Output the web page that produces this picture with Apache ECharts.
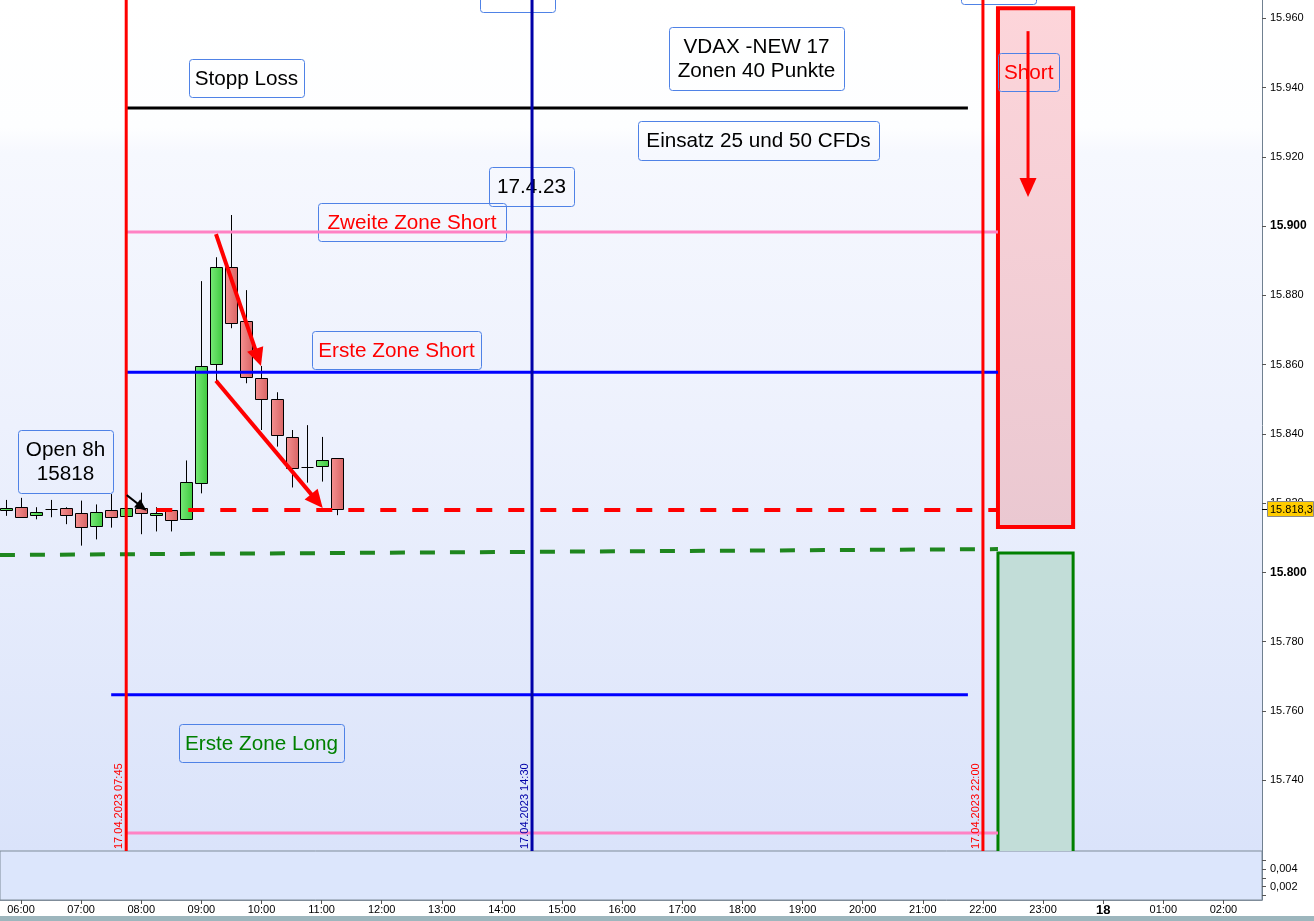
<!DOCTYPE html>
<html><head><meta charset="utf-8">
<script src="https://cdn.jsdelivr.net/npm/echarts@6/dist/echarts.min.js"></script>
<style>html,body{margin:0;padding:0;background:#fff;}#c{width:1314px;height:921px;}</style>
</head><body><div id="c"></div>
<script>
// ---- DATA (time = minutes after 00:00 on 17.04.2023, 15-min bars) ----
var candleTimes = [345,360,375,390,405,420,435,450,465,480,495,510,525,540,555,570,585,600,615,630,645,660,675];
var opens  = [15818.0,15818.8,15816.5,15818.2,15818.5,15817.0,15813.2,15818.0,15816.3,15818.5,15816.5,15817.9,15815.3,15825.9,15860.1,15888.1,15872.5,15856.0,15850.0,15839.0,15830.3,15830.8,15832.9];
var closes = [15818.5,15815.9,15817.3,15818.2,15816.5,15812.9,15817.3,15815.9,15818.5,15817.0,15817.0,15815.1,15826.0,15859.6,15888.1,15871.9,15856.3,15850.0,15839.6,15830.0,15830.3,15832.4,15818.3];
var lows   = [15816.3,15815.9,15815.3,15815.9,15813.9,15807.7,15809.5,15812.9,15815.8,15811.0,15811.8,15811.8,15815.3,15822.8,15855.0,15870.5,15854.6,15841.1,15836.3,15824.5,15825.9,15826.2,15816.5];
var highs  = [15820.9,15821.5,15818.8,15820.9,15818.8,15820.7,15819.6,15822.6,15819.0,15823.0,15818.8,15818.2,15832.3,15884.1,15891.0,15903.2,15881.5,15859.6,15852.0,15841.1,15842.5,15839.1,15832.9];
var lastPrice = 15818.3;

var hourTicks  = [360,420,480,540,600,660,720,780,840,900,960,1020,1080,1140,1200,1260,1320,1380,1440,1500,1560];
var priceTicks = [15740,15760,15780,15800,15820,15840,15860,15880,15900,15920,15940,15960];
var subTicks   = [0.001,0.002,0.003,0.004,0.005];
var subLabels  = [0.002,0.004];

// horizontal level lines: [startTime, startValue, endTime, endValue]
var lvlStop      = [465, 15934.1, 1305, 15934.1];
var lvlZone2S    = [465, 15898.3, 1335, 15898.3];
var lvlZone1S    = [465, 15857.8, 1335, 15857.8];
var lvlOpen8h    = [495, 15818.0, 1335, 15818.0];
var lvlGreen     = [339, 15805.0, 1335, 15806.7];
var lvlZone1L    = [450, 15764.6, 1305, 15764.6];
var lvlBottom    = [465, 15724.7, 1335, 15724.7];

// vertical markers
var vTimes  = [465, 870, 1320];
var vLabels = ['17.04.2023 07:45', '17.04.2023 14:30', '17.04.2023 22:00'];

// zones: [t1, v1, t2, v2]
var shortZone = [1335, 15962.9, 1410, 15813.1];
var longZone  = [1335, 15805.6, 1410, 15690];

// arrows: [t1, v1, t2, v2]
var arrowData = [[554.6,15897.7,599.5,15859.6],[554.6,15855.3,661.1,15818.6],[1365,15956.3,1365,15908.4],[465.5,15822.3,485.4,15817.8]];

// text notes: anchor [t, v]
var noteTexts = [['Stopp Loss'],['VDAX -NEW 17','Zonen 40 Punkte'],['Einsatz 25 und 50 CFDs'],['17.4.23'],['Zweite Zone Short'],['Erste Zone Short'],['Open 8h','15818'],['Erste Zone Long'],['Short'],[''],['']];
var noteAnchors = [[585,15942.8],[1094,15948.4],[1096,15924.7],[869.5,15911.4],[750.2,15901.2],[734.7,15864.2],[404.4,15832.0],[600,15750.7],[1365.7,15944.5],[855,15966.4],[1335.5,15968.8]];

// ---- LAYOUT / STYLE ----
var X_MIN = 339.04, X_MAX = 1598.5, Y_MIN = 15719.5, Y_MAX = 15965.3;
var FONT = '"Liberation Sans", Arial, sans-serif';
var noteStyle = [
  {w:115,h:38,c:'#000'},{w:175,h:63,c:'#000'},{w:241,h:39,c:'#000'},{w:85,h:39,c:'#000'},
  {w:188,h:38,c:'#ff0000'},{w:169,h:38,c:'#ff0000'},{w:95,h:63,c:'#000'},{w:165,h:38,c:'#008000'},
  {w:61,h:38,c:'#ff0000'},{w:75,h:32,c:'#000'},{w:75,h:32,c:'#000'}
];
var arrowStyle = [
  {c:'#ff0000',lw:4,L:18,W:17},{c:'#ff0000',lw:4,L:18,W:17},{c:'#ff0000',lw:3,L:19,W:17},{c:'#000',lw:2,L:12,W:10}
];
var vColors = ['#ff0000','#0000a8','#ff0000'];

function fmtPrice(v){ var s = String(Math.round(v)); return s.slice(0,2)+'.'+s.slice(2); }
function fmtHour(v){
  if (v === 1440) return '{b|18}';
  var h = Math.floor(v/60)%24, m = v%60;
  return (h<10?'0':'')+h+':'+(m<10?'0':'')+m;
}

var chart = echarts.init(document.getElementById('c'), null, {renderer:'canvas'});
var G = echarts.graphic;

var upFill = new G.LinearGradient(0,0,1,0,[{offset:0,color:'#78ea78'},{offset:1,color:'#3ec83e'}]);
var dnFill = new G.LinearGradient(0,0,1,0,[{offset:0,color:'#f59191'},{offset:1,color:'#d86464'}]);

function lineSeries(arr, color, width, z, dash){
  return {type:'line', xAxisIndex:0, yAxisIndex:0, data:[[arr[0],arr[1]],[arr[2],arr[3]]],
    showSymbol:false, symbol:'none', silent:true, z:z,
    lineStyle:{color:color, width:width, type: dash || 'solid', cap:'butt'}};
}

var candleData = candleTimes.map(function(t,i){ return [t, opens[i], closes[i], lows[i], highs[i]]; });

var option = {
  animation:false,
  backgroundColor:'#ffffff',
  grid:[
    {left:0, top:0, width:1262, height:851, show:true, borderWidth:0,
     backgroundColor:new G.LinearGradient(0,0,0,1,[{offset:0,color:'#ffffff'},{offset:0.15,color:'#fdfeff'},{offset:0.18,color:'#f6f8fe'},{offset:0.5,color:'#edf1fd'},{offset:1,color:'#dae3fa'}])},
    {left:0, top:851, width:1262, height:49, show:true, backgroundColor:'#dce6fc', borderColor:'#7f8c99', borderWidth:1}
  ],
  xAxis:[
    {type:'value', gridIndex:0, min:X_MIN, max:X_MAX, show:false},
    {type:'value', gridIndex:1, min:X_MIN, max:X_MAX, position:'bottom',
     axisLine:{show:true, lineStyle:{color:'#7f8c99'}},
     axisTick:{show:true, customValues:hourTicks, length:4, lineStyle:{color:'#555'}},
     splitLine:{show:false},
     axisLabel:{customValues:hourTicks, formatter:fmtHour, color:'#000', fontSize:11, fontFamily:FONT, margin:4,
       rich:{b:{fontSize:13, fontWeight:'bold', color:'#000', fontFamily:FONT}}}}
  ],
  yAxis:[
    {type:'value', gridIndex:0, min:Y_MIN, max:Y_MAX, position:'right',
     axisLine:{show:true, lineStyle:{color:'#708090'}},
     axisTick:{show:true, customValues:priceTicks, length:4, lineStyle:{color:'#555'}},
     splitLine:{show:false},
     axisLabel:{customValues:priceTicks, margin:8, color:'#000', fontSize:11, fontFamily:FONT,
       formatter:function(v){ var s = fmtPrice(v); return (v===15900||v===15800) ? '{b|'+s+'}' : s; },
       rich:{b:{fontSize:12, fontWeight:'bold', color:'#000', fontFamily:FONT}}}},
    {type:'value', gridIndex:1, min:0.00047, max:0.0061, position:'right',
     axisLine:{show:true, lineStyle:{color:'#708090'}},
     axisTick:{show:true, customValues:subTicks, length:4, lineStyle:{color:'#555'}},
     splitLine:{show:false},
     axisLabel:{customValues:subLabels, margin:8, color:'#000', fontSize:11, fontFamily:FONT,
       formatter:function(v){ return v.toFixed(3).replace('.',','); }}}
  ],
  series:[
    // zones
    {type:'custom', xAxisIndex:0, yAxisIndex:0, z:1, clip:true, silent:true,
     data:[shortZone, longZone],
     renderItem:function(params, api){
       var p1 = api.coord([api.value(0), api.value(1)]), p2 = api.coord([api.value(2), api.value(3)]);
       var isShort = params.dataIndex === 0;
       return {type:'rect', shape:{x:p1[0], y:p1[1], width:p2[0]-p1[0], height:p2[1]-p1[1]},
         style:{fill: isShort ? new G.LinearGradient(0,0,0,1,[{offset:0,color:'#fdd5da'},{offset:1,color:'#eac8d1'}]) : '#c2ddd8',
                stroke: isShort ? '#ff0000' : '#008000', lineWidth: isShort ? 4 : 3}};
     }},
    // candles
    {type:'custom', xAxisIndex:0, yAxisIndex:0, z:2, clip:true, silent:true,
     data:candleData, encode:{x:0, y:[1,2,3,4]},
     renderItem:function(params, api){
       var t = api.value(0), o = api.value(1), c = api.value(2), l = api.value(3), h = api.value(4);
       var pO = api.coord([t,o]), pC = api.coord([t,c]), pL = api.coord([t,l]), pH = api.coord([t,h]);
       var x = Math.round(pO[0]) + 0.5;
       var top = Math.min(pO[1], pC[1]), bot = Math.max(pO[1], pC[1]);
       var ch = [{type:'line', shape:{x1:x, y1:pH[1], x2:x, y2:pL[1]}, style:{stroke:'#000', lineWidth:1}}];
       if (o === c) {
         ch.push({type:'line', shape:{x1:x-6, y1:Math.round(pO[1])+0.5, x2:x+6, y2:Math.round(pO[1])+0.5}, style:{stroke:'#000', lineWidth:1}});
       } else {
         ch.push({type:'rect', shape:{x:x-6, y:Math.round(top)+0.5, width:12, height:Math.max(1, Math.round(bot-top))},
           style:{fill: c > o ? upFill : dnFill, stroke:'#000', lineWidth:1}});
       }
       return {type:'group', children:ch};
     }},
    // notes
    {type:'custom', xAxisIndex:0, yAxisIndex:0, z:3, clip:false, silent:true,
     data:noteAnchors, encode:{x:0, y:1},
     renderItem:function(params, api){
       var i = params.dataIndex, s = noteStyle[i];
       var p = api.coord([api.value(0), api.value(1)]);
       return {type:'group', children:[
         {type:'rect', shape:{x:Math.round(p[0]-s.w/2)+0.5, y:Math.round(p[1]-s.h/2)+0.5, width:s.w, height:s.h, r:3},
          style:{fill:'rgba(255,255,255,0)', stroke:'#4f82e6', lineWidth:1}},
         {type:'text', x:p[0], y:p[1]+1, style:{text:noteTexts[i].join('\n'), fill:s.c, font:'20.7px '+FONT,
          align:'center', verticalAlign:'middle', lineHeight:24}}
       ]};
     }},
    lineSeries(lvlStop, '#000000', 3, 4),
    lineSeries(lvlZone2S, '#ff82c4', 3, 4),
    lineSeries(lvlZone1S, '#0000ff', 3, 4),
    lineSeries(lvlOpen8h, '#ff0000', 4, 4, [16,16]),
    lineSeries(lvlGreen, '#1e861e', 4, 4, [15,15]),
    lineSeries(lvlZone1L, '#0000ff', 3, 4),
    lineSeries(lvlBottom, '#ff82c4', 3, 4),
    // vertical markers with rotated labels
    {type:'custom', xAxisIndex:0, yAxisIndex:0, z:5, clip:false, silent:true,
     data:vTimes.map(function(t){ return [t, Y_MIN]; }), encode:{x:0, y:1},
     renderItem:function(params, api){
       var i = params.dataIndex;
       var pb = api.coord([api.value(0), Y_MIN]), pt = api.coord([api.value(0), Y_MAX]);
       return {type:'group', children:[
         {type:'line', shape:{x1:pb[0], y1:pb[1], x2:pt[0], y2:pt[1]}, style:{stroke:vColors[i], lineWidth:3}},
         {type:'text', x:pb[0]-7, y:pb[1]-2, rotation:Math.PI/2,
          style:{text:vLabels[i], fill:vColors[i], font:'11px '+FONT, align:'left', verticalAlign:'middle'}}
       ]};
     }},
    // arrows
    {type:'custom', xAxisIndex:0, yAxisIndex:0, z:6, clip:false, silent:true,
     data:arrowData,
     renderItem:function(params, api){
       var s = arrowStyle[params.dataIndex];
       var p1 = api.coord([api.value(0), api.value(1)]), p2 = api.coord([api.value(2), api.value(3)]);
       var dx = p2[0]-p1[0], dy = p2[1]-p1[1], len = Math.sqrt(dx*dx+dy*dy);
       var ux = dx/len, uy = dy/len, px = -uy, py = ux;
       var bx = p2[0]-ux*s.L, by = p2[1]-uy*s.L;
       return {type:'group', children:[
         {type:'line', shape:{x1:p1[0], y1:p1[1], x2:bx+ux*2, y2:by+uy*2}, style:{stroke:s.c, lineWidth:s.lw}},
         {type:'polygon', shape:{points:[[p2[0],p2[1]],[bx+px*s.W/2, by+py*s.W/2],[bx-px*s.W/2, by-py*s.W/2]]}, style:{fill:s.c}}
       ]};
     }},
    // last price label
    {type:'custom', xAxisIndex:0, yAxisIndex:0, z:7, clip:false, silent:true,
     data:[[X_MAX, lastPrice]], encode:{x:0, y:1},
     renderItem:function(params, api){
       var p = api.coord([X_MAX, api.value(1)]);
       var y = Math.round(p[1]);
       return {type:'group', children:[
         {type:'line', shape:{x1:p[0], y1:y+0.5, x2:p[0]+6, y2:y+0.5}, style:{stroke:'#000', lineWidth:1}},
         {type:'rect', shape:{x:p[0]+5.5, y:y-7.5, width:46, height:15}, style:{fill:'#ffcc00', stroke:'#8a8a8a', lineWidth:1}},
         {type:'text', x:p[0]+8, y:y+1, style:{text:'15.818,3', fill:'#000', font:'11px '+FONT, align:'left', verticalAlign:'middle'}}
       ]};
     }},
    {type:'line', xAxisIndex:1, yAxisIndex:1, data:[], showSymbol:false}
  ],
  graphic:[
    {type:'rect', left:0, top:916, shape:{width:1314, height:5}, style:{fill:'#9db6bd'}, silent:true}
  ]
};
chart.setOption(option);
</script>
</body></html>
